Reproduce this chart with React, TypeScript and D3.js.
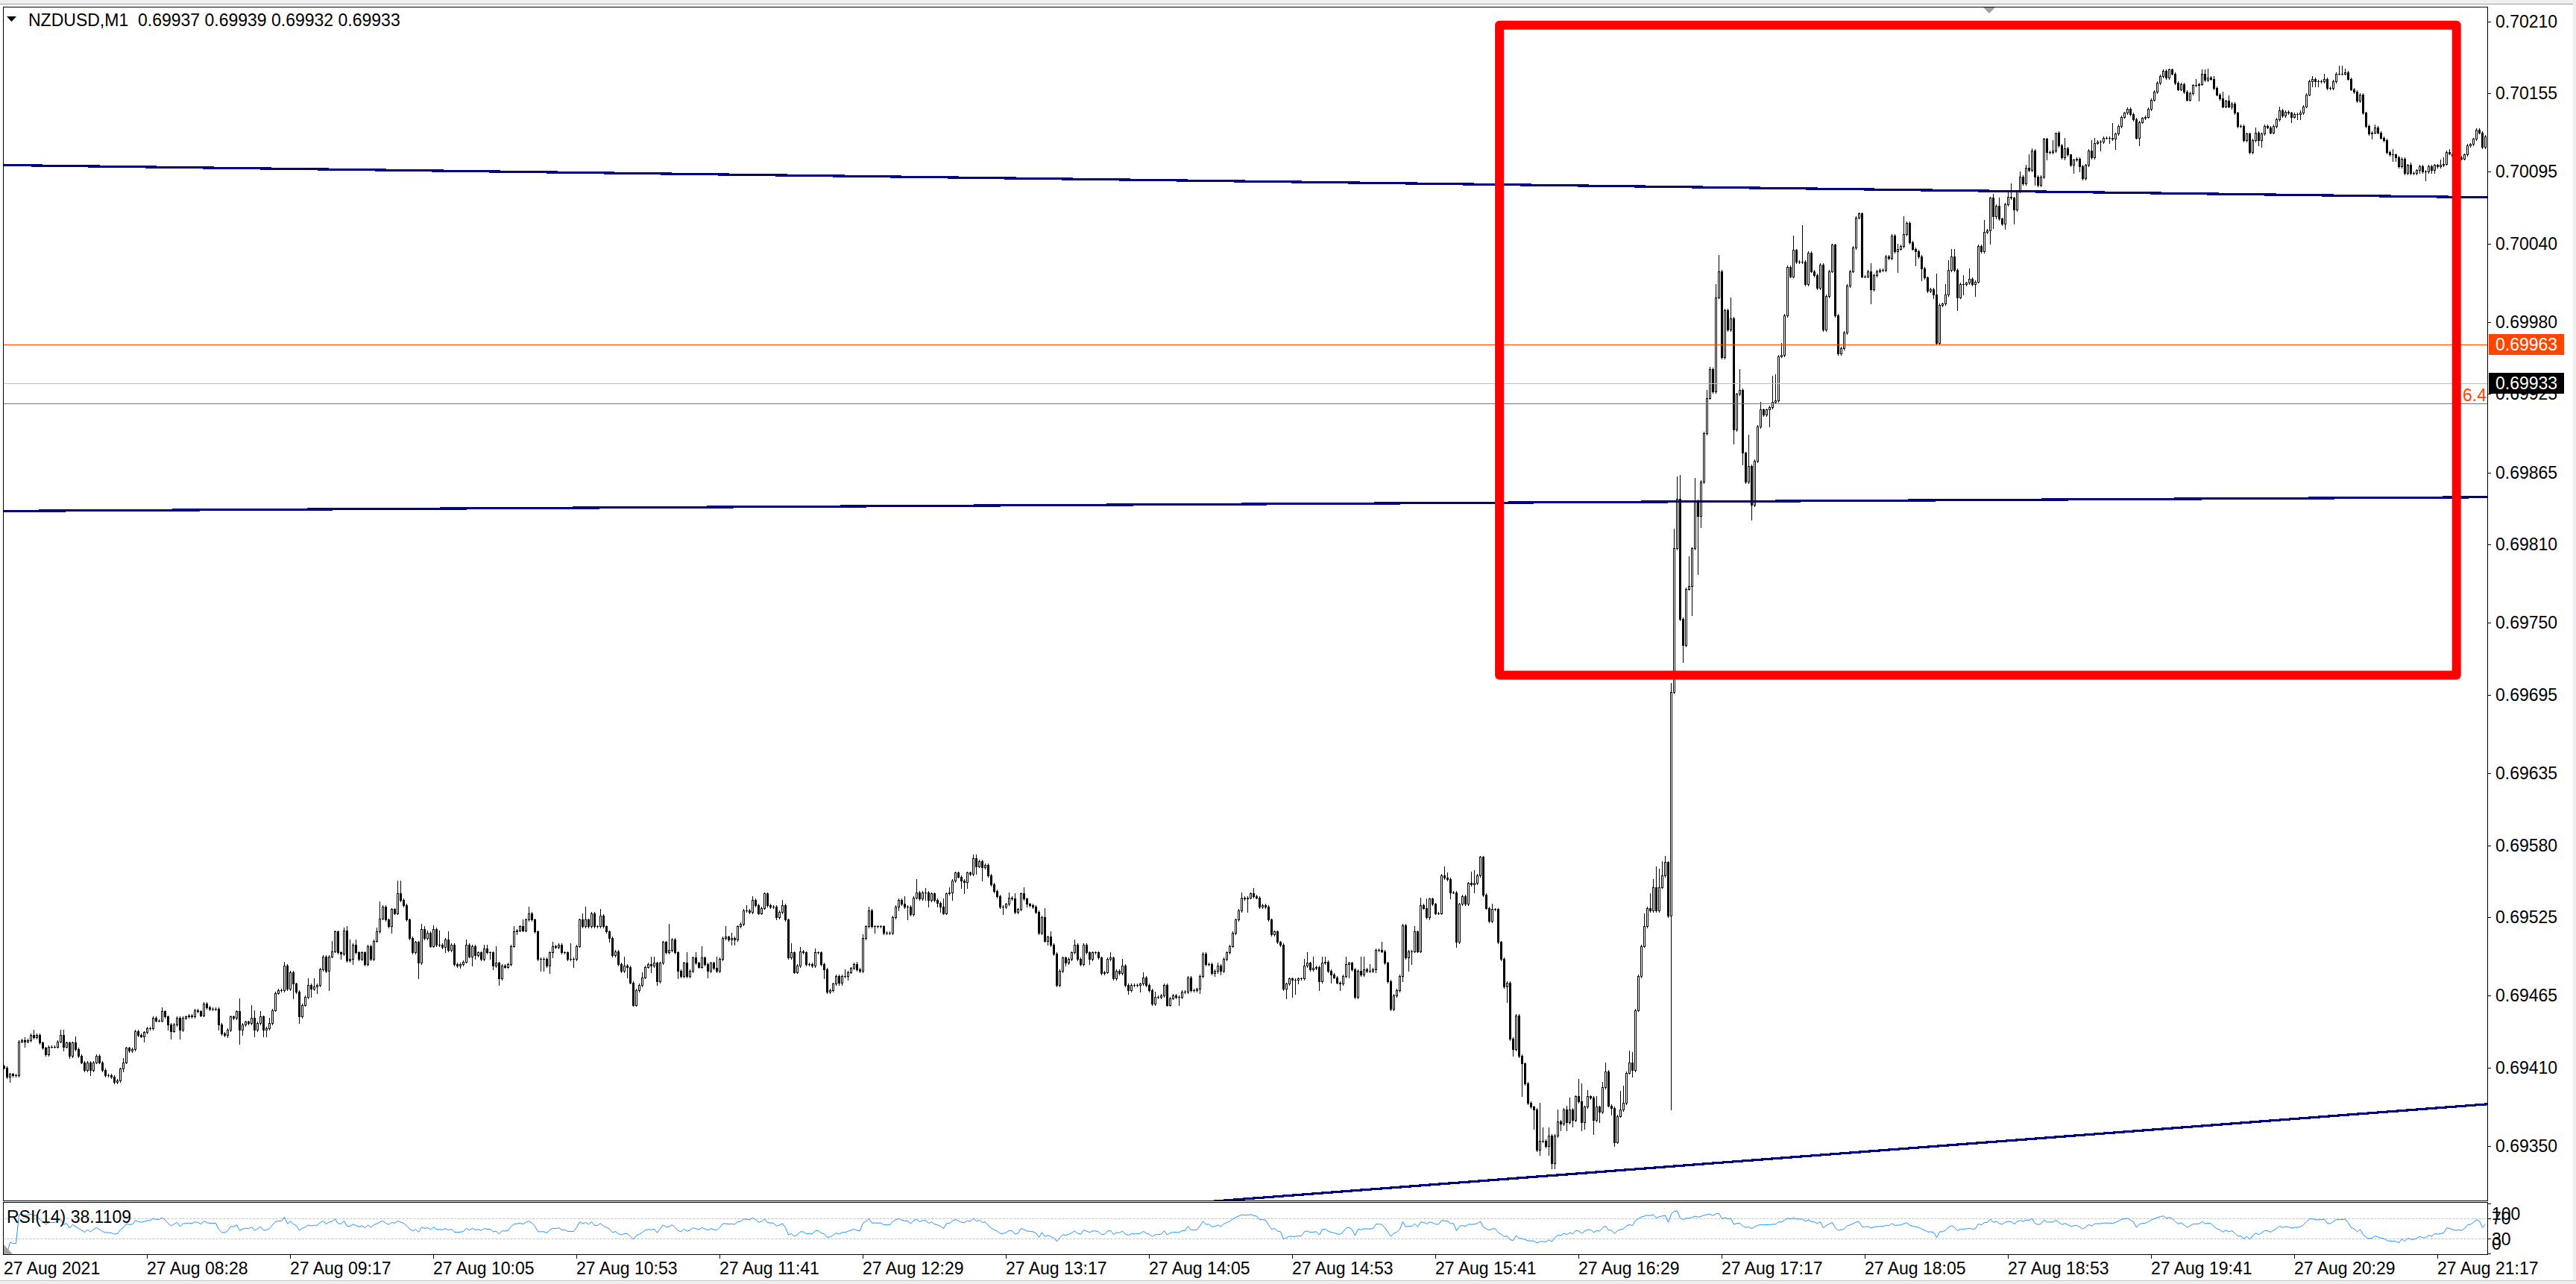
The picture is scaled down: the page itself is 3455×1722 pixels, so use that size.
import React, { useMemo } from 'react';
import * as d3 from 'd3';

// ---------------- data ----------------
const SYMBOL = 'NZDUSD,M1';
const HEADER_OHLC = ['0.69937', '0.69939', '0.69932', '0.69933'];
const RSI_TITLE = 'RSI(14) 38.1109';
const PRICE_BASE = 0.69; // offsets below are in points (0.00001) above 0.69000
const FIRST_OPEN = 411;
const closeOffsets = [
  410,403,405,404,404,430,431,430,431,435,
  433,435,429,425,420,426,426,426,430,435,
  426,429,419,429,424,419,414,408,414,408,
  414,419,414,408,404,404,403,399,400,409,
  414,425,423,424,438,435,434,437,440,440,
  448,446,446,453,449,443,438,443,448,439,
  448,449,450,449,454,453,450,459,456,455,
  455,455,443,436,435,439,449,448,453,439,
  443,445,444,448,439,444,449,439,440,444,
  454,467,469,469,488,470,483,474,468,449,
  458,464,473,470,472,473,485,495,484,495,
  499,514,498,497,515,492,493,504,498,493,
  498,489,503,493,507,514,524,533,523,518,
  531,528,543,538,534,523,509,498,506,490,
  516,509,513,503,516,504,504,502,508,500,
  504,489,488,489,491,504,495,503,496,498,
  493,501,498,498,488,490,478,488,487,489,
  503,514,515,518,515,523,528,523,514,493,
  493,493,488,498,503,502,504,498,498,493,
  493,493,503,523,518,523,518,528,518,518,
  526,518,514,509,496,499,489,484,488,487,
  475,458,469,473,479,487,489,488,490,476,
  490,506,498,500,508,498,484,480,490,480,
  484,494,490,487,494,489,484,490,486,484,
  493,509,510,508,509,508,518,520,530,530,
  529,538,534,528,532,543,534,533,533,525,
  529,534,523,494,498,483,488,499,498,489,
  489,488,498,498,489,485,468,469,474,480,
  475,480,480,483,486,489,485,484,509,518,
  530,518,518,518,518,513,513,513,525,533,
  538,535,533,533,527,540,544,539,544,544,
  538,543,538,536,533,528,543,544,553,559,
  556,553,552,559,558,570,564,568,563,565,
  557,550,545,541,533,533,535,540,539,529,
  531,543,539,535,534,533,529,513,525,507,
  510,504,497,473,484,494,490,493,498,504,
  493,489,504,498,493,498,498,494,482,483,
  493,494,478,484,482,488,473,469,473,473,
  473,474,479,473,469,459,464,464,465,473,
  458,463,465,464,464,468,468,479,469,469,
  470,480,497,489,489,482,484,488,484,493,
  498,503,513,523,530,540,539,540,543,541,
  540,533,534,533,523,512,514,506,504,470,
  474,478,477,477,478,478,488,490,485,486,
  487,476,490,491,484,481,479,475,474,480,
  489,490,485,464,484,481,485,484,484,485,
  500,500,499,490,476,455,465,469,480,519,
  494,499,499,514,499,534,532,525,539,535,
  528,528,557,555,554,544,544,506,535,541,
  535,551,550,551,557,571,542,532,522,531,
  531,506,493,472,475,432,424,450,419,413,
  398,383,380,378,347,354,354,350,358,337,
  358,369,367,378,368,378,370,388,384,368,
  380,388,387,370,380,376,395,407,381,379,
  353,373,378,383,406,414,408,454,480,503,
  518,532,530,548,530,548,557,567,526,697,
  807,845,753,733,776,778,807,843,832,858,
  895,922,944,927,999,1019,953,989,974,983,
  898,925,928,880,858,870,840,874,900,913,
  909,913,915,919,920,954,955,985,1022,1015,
  1035,1026,1026,1026,1009,1033,1019,1016,1006,1024,
  974,1000,1019,1039,985,956,960,972,1008,1019,
  1037,1060,1063,1015,1015,1019,1005,1016,1019,1020,
  1020,1030,1029,1046,1034,1036,1038,1047,1056,1041,
  1036,1034,1030,1021,1014,1004,1005,1001,964,993,
  994,1001,1020,1030,1020,999,1009,1009,1010,1013,
  1009,1011,1038,1034,1049,1050,1075,1061,1069,1059,
  1055,1070,1076,1075,1066,1080,1091,1086,1098,1096,
  1111,1091,1085,1091,1120,1110,1110,1111,1125,1115,
  1106,1113,1108,1100,1104,1105,1099,1090,1100,1111,
  1106,1117,1118,1118,1121,1121,1121,1120,1124,1130,
  1137,1140,1143,1139,1135,1121,1133,1136,1137,1143,
  1150,1156,1163,1168,1172,1167,1173,1170,1163,1158,
  1162,1156,1150,1155,1161,1161,1162,1170,1165,1167,
  1166,1159,1154,1151,1145,1149,1145,1147,1140,1130,
  1130,1119,1124,1110,1119,1125,1119,1124,1130,1129,
  1125,1130,1135,1142,1138,1141,1140,1137,1139,1139,
  1140,1145,1154,1164,1166,1164,1164,1164,1166,1159,
  1159,1164,1170,1170,1170,1171,1166,1158,1156,1149,
  1154,1140,1130,1124,1125,1129,1125,1121,1119,1110,
  1108,1108,1106,1099,1105,1094,1100,1094,1094,1096,
  1099,1095,1095,1099,1096,1100,1099,1100,1101,1110,
  1109,1107,1105,1106,1105,1108,1115,1116,1120,1127,
  1125,1114,1122,
];
const DEFAULT_WICK = 1; // points, for bars without a distinct wick
const upperWicks = [
  [7,2],[10,4],[19,4],[20,4],[24,5],[40,3],[53,3],[79,10],[83,10],[84,6],[86,4],[89,4],[94,3],[102,5],[104,6],
  [110,8],[114,2],[115,3],[116,15],[118,4],[125,3],[126,13],[132,10],[133,10],[140,4],[141,2],[142,2],[144,3],
  [146,11],[149,6],[155,4],[161,3],[162,3],[165,13],[171,4],[174,5],[176,5],[184,3],[190,12],[194,5],[195,10],
  [200,5],[208,7],[214,4],[217,6],[218,5],[223,20],[229,8],[232,4],[234,9],[239,9],[242,8],[244,4],[249,4],
  [251,3],[261,4],[264,7],[267,3],[272,3],[282,5],[286,2],[288,3],[290,3],[302,6],[306,10],[309,3],[315,6],
  [317,4],[325,3],[326,3],[337,4],[339,4],[342,5],[349,7],[351,4],[359,4],[363,1],[371,4],[375,5],[382,4],
  [386,4],[402,1],[407,2],[415,4],[419,4],[436,5],[437,8],[439,9],[442,5],[443,4],[450,6],[455,11],[456,10],
  [458,5],[462,6],[473,4],[475,6],[477,7],[483,7],[484,4],[492,9],[493,10],[499,4],[515,29],[516,10],[518,6],
  [521,9],[524,3],[525,9],[528,13],[529,14],[531,5],[534,8],[536,4],[537,7],[542,14],[543,13],[545,9],[546,8],
  [550,10],[552,11],[553,6],[554,16],[555,14],[556,11],[557,5],[559,7],[560,15],[561,17],[562,18],[565,23],
  [567,18],[571,6],[572,2],[574,10],[575,12],[579,16],[582,16],[585,24],[589,6],[593,20],[594,20],[596,9],
  [600,11],[603,28],[626,6],[635,4],[637,14],[648,16],[651,8],[652,7],[653,6],[654,6],[657,7],[659,8],[664,9],
  [667,3],[669,6],[672,3],[673,10],[676,4],[678,2],[679,10],[680,2],[684,1],[685,1],[687,8],[688,0],[691,8],
  [693,0],[696,1],[700,8],[701,4],[707,11],[735,5],[737,3],[738,3],[739,7],[741,2],[744,5],[746,4],[755,4],
  [763,3],[770,2],[774,2],[778,4],[783,6],[784,6],[785,3],[795,2],[801,4],[802,1],[807,2],[817,4],[818,5],[820,2],
];
const lowerWicks = [
  [2,4],[7,4],[15,1],[20,3],[22,2],[29,4],[40,2],[47,4],[55,4],[56,6],[59,7],[72,4],[75,2],[79,11],[80,4],
  [84,5],[87,5],[88,5],[97,11],[99,5],[103,6],[105,5],[109,15],[113,4],[117,4],[130,5],[139,12],[143,1],[148,4],
  [153,2],[157,7],[158,3],[163,5],[164,3],[166,5],[169,1],[172,2],[180,9],[181,9],[183,6],[184,4],[191,6],
  [203,3],[209,8],[217,5],[219,3],[226,6],[236,5],[244,4],[245,4],[259,2],[266,1],[275,7],[280,2],[281,2],
  [283,3],[292,5],[300,3],[303,10],[309,6],[310,5],[313,3],[314,4],[318,6],[321,6],[322,9],[323,5],[326,6],
  [328,10],[335,6],[343,2],[349,1],[350,3],[356,2],[364,4],[372,1],[377,3],[381,5],[394,6],[401,3],[406,2],
  [407,2],[408,3],[417,10],[430,7],[432,13],[433,11],[434,3],[441,7],[445,6],[448,5],[451,10],[460,2],[469,4],
  [471,10],[472,10],[478,2],[485,5],[487,4],[493,6],[504,12],[506,5],[509,25],[513,15],[515,4],[518,7],[519,4],
  [520,4],[522,5],[524,6],[526,5],[529,6],[530,5],[533,11],[535,8],[539,5],[540,3],[546,5],[559,148],[563,13],
  [566,22],[568,45],[569,9],[580,11],[583,9],[586,11],[592,13],[626,11],[635,16],[641,11],[643,9],[647,3],
  [655,10],[657,8],[661,9],[664,1],[666,10],[667,9],[668,2],[671,4],[674,11],[681,6],[685,6],[690,1],[691,2],
  [694,6],[696,4],[703,7],[706,4],[708,8],[716,6],[736,12],[747,2],[755,1],[756,4],[757,5],[761,1],[767,4],
  [769,4],[770,4],[774,4],[775,4],[776,4],[794,4],[795,1],[801,5],[802,3],[810,2],[812,7],[814,2],[815,2],
];
const priceTicks = [0.7021, 0.70155, 0.70095, 0.7004, 0.6998, 0.69925, 0.69865, 0.6981, 0.6975, 0.69695,
  0.69635, 0.6958, 0.69525, 0.69465, 0.6941, 0.6935];
const timeLabels = ['27 Aug 2021', '27 Aug 08:28', '27 Aug 09:17', '27 Aug 10:05', '27 Aug 10:53', '27 Aug 11:41',
  '27 Aug 12:29', '27 Aug 13:17', '27 Aug 14:05', '27 Aug 14:53', '27 Aug 15:41', '27 Aug 16:29', '27 Aug 17:17',
  '27 Aug 18:05', '27 Aug 18:53', '27 Aug 19:41', '27 Aug 20:29', '27 Aug 21:17'];
const TIME_LABEL_STEP = 48; // bars between time labels
const trendLines = [
  { bar1: 0, price1: 0.701, bar2: 832, price2: 0.700753 },
  { bar1: 0, price1: 0.698355, bar2: 832, price2: 0.698461 },
  { bar1: 563.6, price1: 0.693352, bar2: 832, price2: 0.693819 },
];
const levelLines = [
  { price: 0.69963, kind: 'alert' },
  { price: 0.69933, kind: 'bid' },
  { price: 0.69918, kind: 'fibo' },
];
const priceMarkers = [
  { price: 0.69963, kind: 'alert' },
  { price: 0.69933, kind: 'bid' },
];
const FIBO_TEXT = '6.4';
const zoneRect = { bar1: 501.4, price1: 0.70207, bar2: 822.3, price2: 0.6971 };
const rsiLevels = [70, 30];
const rsiAxisLabels = [
  { text: '100', base: 1636 },
  { text: '70', base: 1642 },
  { text: '30', base: 1670 },
  { text: '0', base: 1676 },
];

// ---------------- layout ----------------
const W = 3455;
const H = 1722;
const PL = 4.5;
const PR = 3336.5;
const PT = 9.5;
const MB = 1610.5;
const RT = 1612.5;
const RB = 1682.5;
const FONT = "'Liberation Sans', Arial, sans-serif";

const kindColor: Record<string, string> = { alert: '#FF4500', bid: '#C0C0C0', fibo: '#FF4500' };
const markerBg: Record<string, string> = { alert: '#FF4500', bid: '#000000' };

export default function App() {
  const n = closeOffsets.length;
  const x = d3.scaleLinear().domain([0, 832]).range([5.5, 3333.5]);
  const y = d3.scaleLinear().domain([0.7021, 0.6935]).range([28.5, 28.5 + 860 * 1.754]);
  const ry = d3.scaleLinear().domain([0, 100]).range([1681, 1614]);
  const fmt = d3.format('.5f');

  const candles = useMemo(() => {
    const up = new Map(upperWicks.map(([i, v]) => [i, v]));
    const dn = new Map(lowerWicks.map(([i, v]) => [i, v]));
    const out = [] as any[];
    for (let i = 0; i < n; i++) {
      const o = i === 0 ? FIRST_OPEN : closeOffsets[i - 1];
      const c = closeOffsets[i];
      const hiB = Math.max(o, c);
      const loB = Math.min(o, c);
      const h = hiB + (up.has(i) ? (up.get(i) as number) : DEFAULT_WICK);
      const l = loB - (dn.has(i) ? (dn.get(i) as number) : DEFAULT_WICK);
      const p = (v: number) => PRICE_BASE + v * 1e-5;
      out.push({ i, o: p(o), h: p(h), l: p(l), c: p(c) });
    }
    return out;
  }, [n]);

  const rsi = useMemo(() => {
    const period = 14;
    const vals: { i: number; v: number }[] = [];
    let ag = 0;
    let al = 0;
    for (let i = 1; i < n; i++) {
      const d = closeOffsets[i] - closeOffsets[i - 1];
      const g = Math.max(d, 0);
      const ls = Math.max(-d, 0);
      if (i <= period) {
        ag = (ag * (i - 1) + g) / i;
        al = (al * (i - 1) + ls) / i;
      } else {
        ag = (ag * (period - 1) + g) / period;
        al = (al * (period - 1) + ls) / period;
      }
      const v = al === 0 ? 100 : 100 - 100 / (1 + ag / al);
      vals.push({ i, v });
    }
    return vals;
  }, [n]);

  const rsiPath = d3
    .line<{ i: number; v: number }>()
    .x((d) => x(d.i))
    .y((d) => ry(d.v))(rsi) as string;

  const candleEls: React.ReactNode[] = [];
  candles.forEach((d) => {
    const cx = Math.floor(x(d.i));
    const yh = Math.round(y(d.h));
    const yl = Math.round(y(d.l));
    const yTop = Math.round(y(Math.max(d.o, d.c)));
    const yBot = Math.round(y(Math.min(d.o, d.c)));
    candleEls.push(<rect key={'w' + d.i} x={cx} y={yh} width={1} height={Math.max(1, yl - yh + 1)} fill="#000" />);
    candleEls.push(
      <rect key={'b' + d.i} x={cx - 1} y={yTop} width={3} height={Math.max(1, yBot - yTop + 1)} fill="#000" />
    );
    if (d.c > d.o && yBot - yTop >= 2) {
      candleEls.push(<rect key={'f' + d.i} x={cx} y={yTop + 1} width={1} height={yBot - yTop - 1} fill="#fff" />);
    }
  });

  const bStart = x.invert(PL);
  const bEnd = x.invert(PR);

  return (
    <div>
      <style>{'html,body{margin:0;padding:0;overflow:hidden;background:#fff}'}</style>
      <svg width={W} height={H} style={{ display: 'block' }} fontFamily={FONT}>
        <rect x={0} y={0} width={W} height={H} fill="#fff" />
        {/* window chrome */}
        <rect x={0} y={0} width={W} height={5} fill="#F0F0F0" />
        <line x1={0} x2={W} y1={5.5} y2={5.5} stroke="#A0A0A0" />
        <rect x={W - 4} y={0} width={4} height={H} fill="#F0F0F0" />
        <rect x={0} y={H - 4} width={W} height={4} fill="#F0F0F0" />
        <line x1={0} x2={W} y1={H - 4.5} y2={H - 4.5} stroke="#C8C8C8" />

        <defs>
          <clipPath id="mainClip">
            <rect x={PL} y={PT} width={PR - PL} height={MB - PT} />
          </clipPath>
          <clipPath id="rsiClip">
            <rect x={PL} y={RT} width={PR - PL} height={RB - RT} />
          </clipPath>
        </defs>

        {/* candles */}
        <g clipPath="url(#mainClip)" shapeRendering="crispEdges">
          {candleEls}
        </g>

        {/* level lines */}
        <g clipPath="url(#mainClip)" shapeRendering="crispEdges">
          {levelLines.map((l, k) => {
            const yy = Math.round(y(l.price)) + 0.5;
            return <line key={k} x1={PL} x2={PR} y1={yy} y2={yy} stroke={kindColor[l.kind]} strokeWidth={1} />;
          })}
        </g>
        <text
          x={3335}
          y={Math.round(y(levelLines[2].price)) - 3}
          fontSize={23}
          fill="#FF4500"
          textAnchor="end"
        >
          {FIBO_TEXT}
        </text>

        {/* trend lines */}
        <g clipPath="url(#mainClip)" shapeRendering="crispEdges">
          {trendLines.map((t, k) => {
            const slope = (t.price2 - t.price1) / (t.bar2 - t.bar1);
            const pa = t.price1 + slope * (bStart - t.bar1);
            const pb = t.price1 + slope * (bEnd - t.bar1);
            return (
              <line key={k} x1={PL} x2={PR} y1={y(pa)} y2={y(pb)} stroke="#000080" strokeWidth={3.2} />
            );
          })}
        </g>

        {/* red zone rectangle */}
        <rect
          x={x(zoneRect.bar1)}
          y={y(zoneRect.price1)}
          width={x(zoneRect.bar2) - x(zoneRect.bar1)}
          height={y(zoneRect.price2) - y(zoneRect.price1)}
          fill="none"
          stroke="#FF0000"
          strokeWidth={12}
          strokeLinejoin="round"
        />

        {/* shift marker */}
        <polygon points="2659,9 2677,9 2668,18" fill="#A0A0A0" />

        {/* frames */}
        <g shapeRendering="crispEdges" fill="none" stroke="#000">
          <rect x={PL} y={PT} width={PR - PL} height={MB - PT} />
          <rect x={PL} y={RT} width={PR - PL} height={RB - RT} />
        </g>

        {/* header */}
        <polygon points="9,22 22,22 15.5,29" fill="#000" />
        <text x={38} y={35} fontSize={23} fill="#000">
          {SYMBOL + '\u00A0\u00A0' + HEADER_OHLC.join(' ')}
        </text>

        {/* price axis */}
        <g shapeRendering="crispEdges">
          {priceTicks.map((p) => {
            const yy = Math.round(y(p)) + 0.5;
            return <line key={'t' + p} x1={PR} x2={PR + 4} y1={yy} y2={yy} stroke="#000" />;
          })}
        </g>
        {priceTicks.map((p) => (
          <text key={'l' + p} x={3347} y={y(p) + 8} fontSize={23} fill="#000">
            {fmt(p)}
          </text>
        ))}
        {priceMarkers.map((m) => {
          const yy = y(m.price);
          return (
            <g key={'m' + m.price}>
              <rect x={3338} y={Math.round(yy) - 14} width={101} height={28} fill={markerBg[m.kind]} />
              <text x={3347} y={yy + 8} fontSize={23} fill="#fff">
                {fmt(m.price)}
              </text>
            </g>
          );
        })}

        {/* RSI pane */}
        <g clipPath="url(#rsiClip)">
          {rsiLevels.map((lv) => (
            <line
              key={lv}
              x1={PL}
              x2={PR}
              y1={Math.round(ry(lv)) + 0.5}
              y2={Math.round(ry(lv)) + 0.5}
              stroke="#C0C0C0"
              strokeDasharray="3,2"
            />
          ))}
          <path d={rsiPath} fill="none" stroke="#1E90FF" strokeWidth={1} />
        </g>
        <polygon points="5,1669 5,1682 17,1682" fill="#A0A0A0" />
        <text x={9} y={1640} fontSize={23} fill="#000">
          {RSI_TITLE}
        </text>
        <g shapeRendering="crispEdges">
          {[100, 70, 30, 0].map((v) => (
            <line key={v} x1={PR} x2={PR + 4} y1={Math.round(ry(v)) + 0.5} y2={Math.round(ry(v)) + 0.5} stroke="#000" />
          ))}
        </g>
        {rsiAxisLabels.map((r) => (
          <text key={r.text} x={3342} y={r.base} fontSize={23} fill="#000">
            {r.text}
          </text>
        ))}

        {/* time axis */}
        <g shapeRendering="crispEdges">
          {timeLabels.map((t, k) =>
            k === 0 ? null : (
              <line
                key={t}
                x1={Math.floor(x(k * TIME_LABEL_STEP)) + 0.5}
                x2={Math.floor(x(k * TIME_LABEL_STEP)) + 0.5}
                y1={RB}
                y2={RB + 5}
                stroke="#000"
              />
            )
          )}
        </g>
        {timeLabels.map((t, k) => (
          <text key={'tl' + t} x={k === 0 ? 5 : Math.floor(x(k * TIME_LABEL_STEP))} y={1709} fontSize={23} fill="#000">
            {t}
          </text>
        ))}
      </svg>
    </div>
  );
}
